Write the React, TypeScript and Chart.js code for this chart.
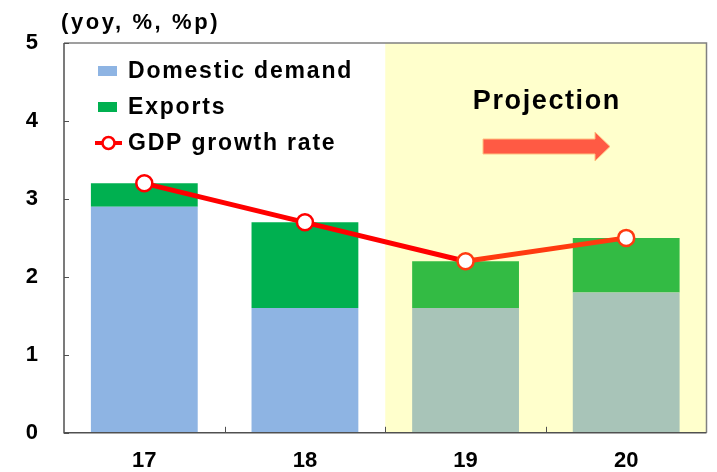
import React, { useEffect, useRef } from 'react';
import { Chart, registerables } from 'chart.js';

Chart.register(...registerables);

const categories = ['17', '18', '19', '20'];
const domesticDemand = [2.9, 1.6, 1.6, 1.8];
const exportsContribution = [0.3, 1.1, 0.6, 0.7];
const gdpGrowth = [3.2, 2.7, 2.2, 2.5];
const yTickValues = [0, 1, 2, 3, 4, 5];
const projectionStart = 2;
const unitLabel = '(yoy, %, %p)';
const projectionLabel = 'Projection';
const legendLabels = ['Domestic demand', 'Exports', 'GDP growth rate'];

const FONT = '"Liberation Sans", Arial, sans-serif';

const domesticColors = categories.map((_, i) => (i >= projectionStart ? '#A8C4B8' : '#8EB4E3'));
const exportColors = categories.map((_, i) => (i >= projectionStart ? '#33BB44' : '#00B050'));

const decorPlugin = {
  id: 'decor',
  beforeDatasetsDraw(chart: any) {
    const { ctx, chartArea, scales } = chart;
    const x = scales.x;
    const startX = (x.getPixelForValue(projectionStart - 1) + x.getPixelForValue(projectionStart)) / 2;
    ctx.save();
    ctx.fillStyle = '#FFFFCC';
    ctx.fillRect(startX, chartArea.top, chartArea.right - startX, chartArea.bottom - chartArea.top);
    ctx.restore();
  },
  afterDatasetsDraw(chart: any) {
    const { ctx, chartArea, scales } = chart;
    const x = scales.x;
    const y = scales.y;
    const { left, right, top, bottom } = chartArea;
    ctx.save();
    // box
    ctx.strokeStyle = '#808080';
    ctx.lineWidth = 1.5;
    ctx.beginPath();
    ctx.moveTo(left, top);
    ctx.lineTo(right, top);
    ctx.lineTo(right, bottom);
    ctx.stroke();
    ctx.strokeStyle = '#505050';
    ctx.beginPath();
    ctx.moveTo(left, top);
    ctx.lineTo(left, bottom);
    ctx.lineTo(right, bottom);
    ctx.stroke();
    // y tick marks
    ctx.lineWidth = 1;
    yTickValues.forEach((v) => {
      const py = Math.round(y.getPixelForValue(v)) + 0.5;
      ctx.beginPath();
      ctx.moveTo(left, py);
      ctx.lineTo(left + 5, py);
      ctx.stroke();
    });
    // x tick marks at category boundaries
    for (let i = 1; i < categories.length; i++) {
      const px = Math.round((x.getPixelForValue(i - 1) + x.getPixelForValue(i)) / 2) + 0.5;
      ctx.beginPath();
      ctx.moveTo(px, bottom);
      ctx.lineTo(px, bottom - 6);
      ctx.stroke();
    }

    // unit label
    ctx.fillStyle = '#000';
    ctx.textBaseline = 'middle';
    ctx.textAlign = 'left';
    ctx.font = `bold 22px ${FONT}`;
    (ctx as any).letterSpacing = '2.6px';
    ctx.fillText(unitLabel, 61, 23);

    // projection label
    const projX = (x.getPixelForValue(projectionStart) + x.getPixelForValue(projectionStart + 1)) / 2;
    ctx.textAlign = 'center';
    ctx.font = `bold 27px ${FONT}`;
    (ctx as any).letterSpacing = '1.6px';
    ctx.fillText(projectionLabel, projX + 1, 102);

    // arrow
    ctx.fillStyle = '#FF5A44';
    ctx.strokeStyle = '#FFC080';
    ctx.lineWidth = 1;
    ctx.beginPath();
    ctx.moveTo(483, 139);
    ctx.lineTo(595, 139);
    ctx.lineTo(595, 132);
    ctx.lineTo(610, 146.5);
    ctx.lineTo(595, 161);
    ctx.lineTo(595, 154);
    ctx.lineTo(483, 154);
    ctx.closePath();
    ctx.fill();
    ctx.stroke();

    // legend
    ctx.textAlign = 'left';
    ctx.font = `bold 23px ${FONT}`;
    (ctx as any).letterSpacing = '1.8px';
    ctx.fillStyle = '#000';
    const rows = [71, 107, 143];
    ctx.fillText(legendLabels[0], 128, rows[0] + 1);
    ctx.fillText(legendLabels[1], 128, rows[1] + 1);
    ctx.fillText(legendLabels[2], 128, rows[2] + 1);
    ctx.fillStyle = '#8EB4E3';
    ctx.fillRect(98, rows[0] - 5, 19, 10);
    ctx.fillStyle = '#00B050';
    ctx.fillRect(98, rows[1] - 5, 19, 10);
    ctx.strokeStyle = '#FF0000';
    ctx.lineWidth = 4;
    ctx.beginPath();
    ctx.moveTo(95, rows[2]);
    ctx.lineTo(122, rows[2]);
    ctx.stroke();
    ctx.fillStyle = '#FFFFFF';
    ctx.lineWidth = 2.5;
    ctx.beginPath();
    ctx.arc(108.5, rows[2], 6, 0, Math.PI * 2);
    ctx.fill();
    ctx.stroke();
    (ctx as any).letterSpacing = '0px';
    ctx.restore();
  },
};

export default function App() {
  const canvasRef = useRef<HTMLCanvasElement | null>(null);

  useEffect(() => {
    document.body.style.margin = '0';
    const canvas = canvasRef.current;
    if (!canvas) return;
    const chart = new Chart(canvas, {
      type: 'bar',
      data: {
        labels: categories,
        datasets: [
          {
            type: 'line',
            label: legendLabels[2],
            data: gdpGrowth,
            borderColor: '#FF0000',
            borderWidth: 5,
            pointRadius: 8,
            pointBorderWidth: 2.5,
            pointBackgroundColor: '#FFFFFF',
            pointBorderColor: categories.map((_, i) => (i >= projectionStart ? '#FF3A10' : '#FF0000')),
            segment: {
              borderColor: (c: any) => (c.p0DataIndex >= projectionStart ? '#FF3A10' : '#FF0000'),
            },
            stack: 'gdp',
            order: 0,
          } as any,
          {
            type: 'bar',
            label: legendLabels[0],
            data: domesticDemand,
            backgroundColor: domesticColors,
            stack: 'contrib',
            order: 1,
            barPercentage: 0.665,
            categoryPercentage: 1,
          },
          {
            type: 'bar',
            label: legendLabels[1],
            data: exportsContribution,
            backgroundColor: exportColors,
            stack: 'contrib',
            order: 1,
            barPercentage: 0.665,
            categoryPercentage: 1,
          },
        ],
      },
      options: {
        animation: false,
        responsive: false,
        maintainAspectRatio: false,
        layout: { padding: { top: 43, right: 6, left: 0, bottom: 0 } },
        plugins: { legend: { display: false }, tooltip: { enabled: false } },
        scales: {
          x: {
            stacked: true,
            grid: { display: false, drawTicks: false },
            border: { display: false },
            ticks: { color: '#000', font: { family: FONT, size: 22, weight: 'bold' }, padding: 15 },
            afterFit: (s: any) => {
              s.height = 38;
            },
          },
          y: {
            stacked: true,
            min: 0,
            max: 5,
            grid: { display: false, drawTicks: false },
            border: { display: false },
            afterBuildTicks: (s: any) => {
              s.ticks = yTickValues.map((v) => ({ value: v }));
            },
            ticks: { color: '#000', font: { family: FONT, size: 22, weight: 'bold' }, padding: 26 },
            afterFit: (s: any) => {
              s.width = 64;
            },
          },
        },
      },
      plugins: [decorPlugin],
    });
    return () => chart.destroy();
  }, []);

  return (
    <div style={{ position: 'relative', width: 717, height: 472 }}>
      <canvas ref={canvasRef} width={717} height={472} style={{ display: 'block', width: 717, height: 472 }} />
    </div>
  );
}
